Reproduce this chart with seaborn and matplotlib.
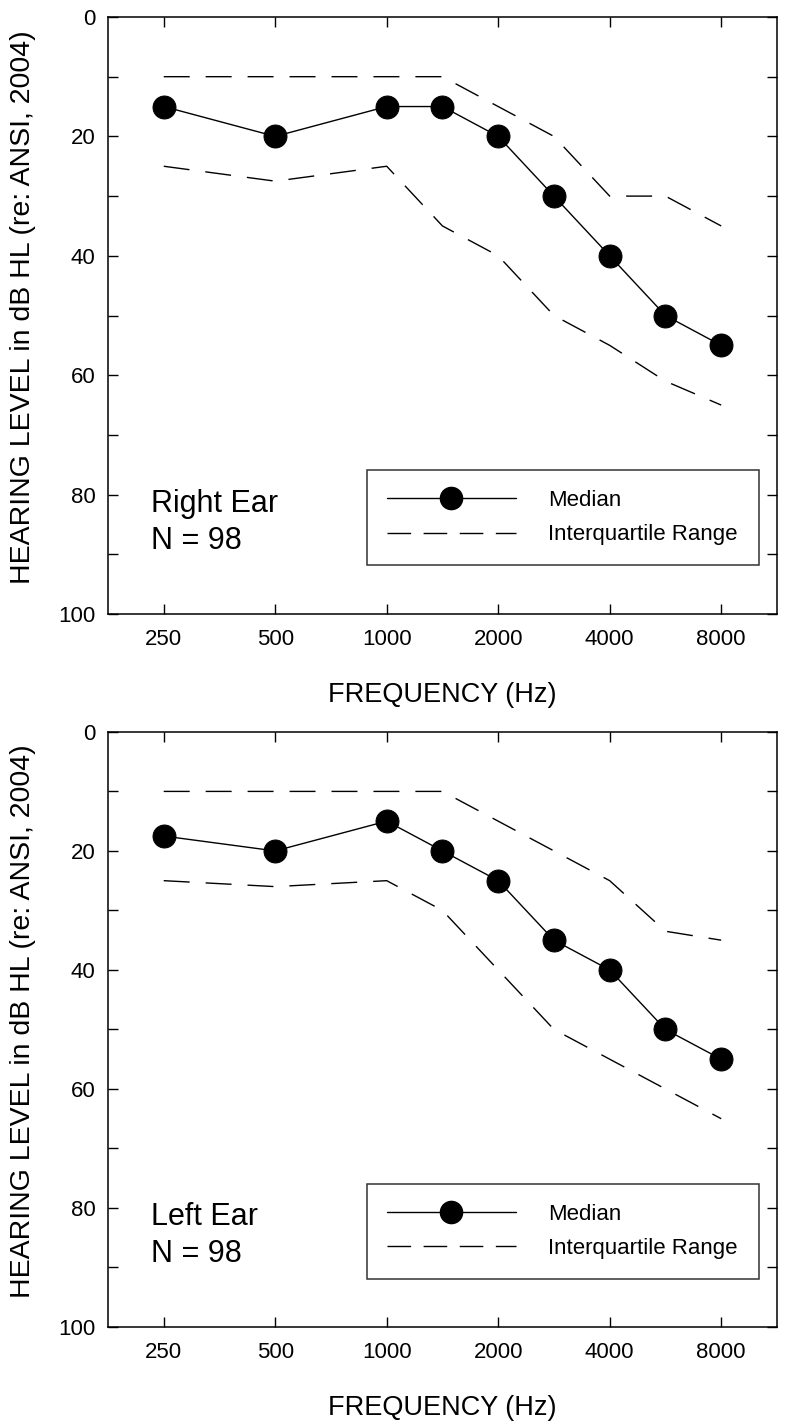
import numpy as np
import pandas as pd
import seaborn as sns
from matplotlib import pyplot as plt
from matplotlib.lines import Line2D
from matplotlib.ticker import MultipleLocator

freqs = np.array([250, 500, 1000, 1500, 2000, 3000, 4000, 6000, 8000])
tick_freqs = [250, 500, 1000, 2000, 4000, 8000]

right_median = [15, 20, 15, 15, 20, 30, 40, 50, 55]
right_q1 = [10, 10, 10, 10, 15, 20, 30, 30, 35]
right_q3 = [25, 27.5, 25, 35, 40, 50, 55, 61, 65]

left_median = [17.5, 20, 15, 20, 25, 35, 40, 50, 55]
left_q1 = [10, 10, 10, 10, 15, 20, 25, 33.5, 35]
left_q3 = [25, 26, 25, 30, 40, 50, 55, 60, 65]

panels = [
    ('Right Ear', 98, right_median, right_q1, right_q3),
    ('Left Ear', 98, left_median, left_q1, left_q3),
]

sns.set_style('ticks')
plt.rcParams['font.family'] = ['Liberation Sans', 'DejaVu Sans']
for k in ['text.color', 'axes.labelcolor', 'xtick.color', 'ytick.color']:
    plt.rcParams[k] = 'black'


def octave_pos(f):
    # audiogram spacing: half-octave frequencies sit midway between octaves
    return np.round(2 * np.log2(np.asarray(f) / 250)) / 2


fig = plt.figure(figsize=(7.87, 14.27), dpi=100)
ax_boxes = [[0.1372, 0.5697, 0.850, 0.4184], [0.1372, 0.0701, 0.850, 0.4170]]
dash = (18.7, 11.5)

for box, (ear, n, med, q1, q3) in zip(ax_boxes, panels):
    ax = fig.add_axes(box)
    df = pd.DataFrame({'pos': octave_pos(freqs), 'median': med, 'q1': q1, 'q3': q3})
    for col in ['q1', 'q3']:
        l = sns.lineplot(data=df, x='pos', y=col, ax=ax, color='black', lw=1.0)
        l.lines[-1].set_dashes(dash)
    sns.lineplot(data=df, x='pos', y='median', ax=ax, color='black', lw=1.0,
                 marker='o', markersize=16.5, markeredgecolor='black')

    ax.set_xlim(-0.5, 5.5)
    ax.set_ylim(100, 0)
    ax.set_xticks(octave_pos(tick_freqs))
    ax.set_xticklabels([str(f) for f in tick_freqs])
    ax.yaxis.set_major_locator(MultipleLocator(20))
    ax.yaxis.set_minor_locator(MultipleLocator(10))
    ax.tick_params(which='both', direction='in', top=True, right=True, length=7,
                   width=1.0, labelsize=16)
    ax.tick_params(axis='x', pad=11)
    ax.tick_params(axis='y', pad=9)
    for s in ax.spines.values():
        s.set_linewidth(1.1)
        s.set_color('black')

    ax.set_xlabel('FREQUENCY (Hz)', fontsize=19.5)
    ax.set_ylabel('HEARING LEVEL in dB HL (re: ANSI, 2004)', fontsize=20.5)
    ax.xaxis.label.set_va('center')
    ax.yaxis.label.set_va('center')
    ax.xaxis.set_label_coords(0.5, -0.136)
    ax.yaxis.set_label_coords(-0.127, 0.514)

    ax.text(0.064, 0.184, ear, transform=ax.transAxes, fontsize=22, va='center')
    ax.text(0.064, 0.122, f'N = {n}', transform=ax.transAxes, fontsize=22, va='center')

    handles = [
        Line2D([], [], color='black', lw=1.0, marker='o', markersize=16),
        Line2D([], [], color='black', lw=1.0, dashes=(17, 9)),
    ]
    leg = ax.legend(handles, ['Median', 'Interquartile Range'], loc='upper left',
                    bbox_to_anchor=(0.387, 0.0, 0.586, 0.241), mode='expand',
                    borderaxespad=0, fontsize=16, handlelength=5.8, handletextpad=1.45,
                    borderpad=0.9, labelspacing=0.6, fancybox=False, frameon=True)
    leg.get_frame().set_edgecolor('black')
    leg.get_frame().set_linewidth(1.1)

fig.savefig('out.png', dpi=100)
